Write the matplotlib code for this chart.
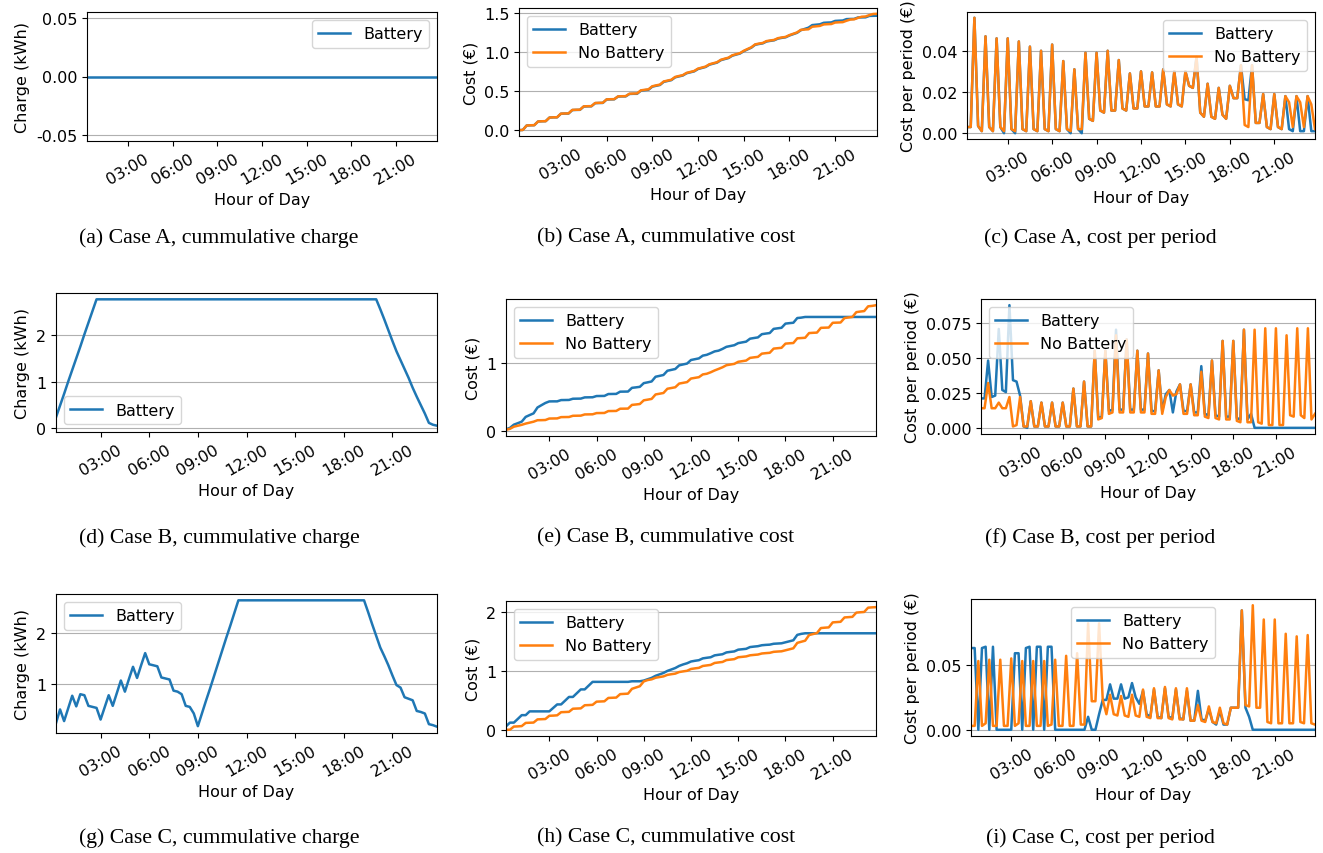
import numpy as np
import pandas as pd
import matplotlib
matplotlib.use("Agg")
import matplotlib.pyplot as plt
import matplotlib.dates as mdates

# 15 minute periods from 00:15 to 23:45
times = pd.date_range("2021-01-01 00:15", "2021-01-01 23:45", freq="15min")

# ---- Case A: no battery capacity ----
charge_a = [0.0] * 95

cost_a_nobat = [0.003, 0.003,
                0.056, 0.0035, 0.001,
                0.047, 0.003, 0.001,
                0.046, 0.003, 0.001,
                0.046, 0.002, 0.001,
                0.0445, 0.002, 0.001,
                0.042, 0.002, 0.001,
                0.040, 0.002, 0.001,
                0.043, 0.002, 0.001,
                0.035, 0.002, 0.001,
                0.031, 0.002, 0.002,
                0.039, 0.007, 0.006,
                0.039, 0.011, 0.010,
                0.040, 0.011, 0.011,
                0.0355, 0.012, 0.011,
                0.029, 0.012, 0.012,
                0.030, 0.013, 0.013,
                0.0295, 0.013, 0.013,
                0.031, 0.014, 0.013,
                0.030, 0.014, 0.013,
                0.030, 0.023, 0.022,
                0.037, 0.010, 0.008,
                0.024, 0.008, 0.007,
                0.022, 0.009, 0.007,
                0.023, 0.017, 0.017,
                0.033, 0.004, 0.003,
                0.033, 0.005, 0.005,
                0.019, 0.003, 0.002,
                0.019, 0.003, 0.002,
                0.018, 0.015, 0.003,
                0.018, 0.015, 0.003,
                0.018, 0.014, 0.002]

cost_a_bat = [0.003, 0.003,
              0.056, 0.0035, 0.001,
              0.047, 0.003, 0.001,
              0.046, 0.003, 0.0,
              0.046, 0.002, 0.0,
              0.0445, 0.002, 0.001,
              0.042, 0.002, 0.001,
              0.040, 0.002, 0.001,
              0.043, 0.002, 0.001,
              0.035, 0.002, 0.0,
              0.031, 0.002, 0.0,
              0.039, 0.007, 0.006,
              0.039, 0.011, 0.010,
              0.040, 0.011, 0.011,
              0.0355, 0.012, 0.011,
              0.029, 0.012, 0.012,
              0.030, 0.013, 0.013,
              0.0295, 0.013, 0.013,
              0.031, 0.014, 0.013,
              0.030, 0.014, 0.013,
              0.030, 0.023, 0.022,
              0.037, 0.010, 0.008,
              0.024, 0.008, 0.007,
              0.022, 0.009, 0.007,
              0.023, 0.017, 0.017,
              0.033, 0.0165, 0.016,
              0.033, 0.005, 0.005,
              0.019, 0.003, 0.002,
              0.019, 0.003, 0.002,
              0.018, 0.002, 0.001,
              0.018, 0.001, 0.001,
              0.018, 0.001, 0.001]

# ---- Case B ----
charge_b = ([0.24, 0.49, 0.74, 1.00, 1.25, 1.50, 1.75, 2.01, 2.26, 2.51, 2.76]
            + [2.76] * 69
            + [2.55, 2.33, 2.10, 1.87, 1.65, 1.46, 1.27, 1.08, 0.87, 0.68,
               0.50, 0.32, 0.12, 0.08, 0.06])

cost_b_nobat = [0.014, 0.014,
                0.032, 0.014, 0.014,
                0.018, 0.014, 0.014,
                0.022, 0.001, 0.002,
                0.022, 0.001, 0.001,
                0.019, 0.001, 0.001,
                0.018, 0.001, 0.001,
                0.018, 0.001, 0.001,
                0.018, 0.001, 0.001,
                0.028, 0.001, 0.001,
                0.033, 0.001, 0.001,
                0.055, 0.006, 0.007,
                0.055, 0.010, 0.011,
                0.066, 0.011, 0.011,
                0.063, 0.011, 0.011,
                0.055, 0.011, 0.011,
                0.053, 0.010, 0.010,
                0.041, 0.010, 0.022,
                0.027, 0.023, 0.024,
                0.031, 0.010, 0.010,
                0.031, 0.009, 0.009,
                0.040, 0.008, 0.007,
                0.048, 0.007, 0.006,
                0.062, 0.006, 0.006,
                0.062, 0.005, 0.004,
                0.070, 0.004, 0.004,
                0.070, 0.004, 0.003,
                0.071, 0.002, 0.002,
                0.071, 0.002, 0.002,
                0.066, 0.009, 0.008,
                0.071, 0.009, 0.007,
                0.071, 0.006, 0.010]

cost_b_bat = [0.021, 0.021,
              0.048, 0.022, 0.023,
              0.0705, 0.027, 0.0255,
              0.0875, 0.034, 0.033,
              0.023, 0.001, 0.0,
              0.019, 0.001, 0.001,
              0.018, 0.001, 0.001,
              0.018, 0.001, 0.001,
              0.018, 0.001, 0.001,
              0.028, 0.001, 0.001,
              0.033, 0.001, 0.001,
              0.055, 0.007, 0.008,
              0.055, 0.012, 0.013,
              0.070, 0.013, 0.013,
              0.063, 0.013, 0.013,
              0.055, 0.013, 0.013,
              0.053, 0.012, 0.012,
              0.041, 0.012, 0.024,
              0.027, 0.011, 0.026,
              0.031, 0.012, 0.012,
              0.031, 0.011, 0.011,
              0.044, 0.010, 0.009,
              0.048, 0.009, 0.008,
              0.062, 0.008, 0.008,
              0.062, 0.007, 0.006,
              0.070, 0.006, 0.010,
              0.0, 0.0, 0.0,
              0.0, 0.0, 0.0,
              0.0, 0.0, 0.0,
              0.0, 0.0, 0.0,
              0.0, 0.0, 0.0,
              0.0, 0.0, 0.0]

# ---- Case C ----
charge_c = ([0.23, 0.50,
             0.27, 0.52, 0.77,
             0.56, 0.80, 0.78,
             0.57, 0.55, 0.53,
             0.30, 0.54, 0.78,
             0.57, 0.82, 1.07,
             0.85, 1.10, 1.34,
             1.12, 1.37, 1.61,
             1.39, 1.37, 1.35,
             1.13, 1.11, 1.09,
             0.87, 0.85, 0.80,
             0.57, 0.55, 0.42,
             0.17, 0.42, 0.67,
             0.91, 1.16, 1.41,
             1.66, 1.91, 2.15,
             2.40]
            + [2.65] * 32
            + [2.42, 2.18, 1.95, 1.72, 1.55, 1.37, 1.17, 0.98, 0.93,
               0.74, 0.71, 0.68, 0.47, 0.45, 0.42, 0.21, 0.19, 0.16])

cost_c_nobat = [0.003, 0.003,
                0.053, 0.003, 0.005,
                0.054, 0.003, 0.003,
                0.054, 0.003, 0.003,
                0.055, 0.003, 0.005,
                0.053, 0.003, 0.003,
                0.053, 0.003, 0.003,
                0.053, 0.003, 0.004,
                0.054, 0.003, 0.003,
                0.057, 0.003, 0.003,
                0.059, 0.004, 0.004,
                0.082, 0.022, 0.022,
                0.082, 0.023, 0.012,
                0.027, 0.012, 0.011,
                0.026, 0.011, 0.010,
                0.027, 0.011, 0.010,
                0.031, 0.010, 0.009,
                0.032, 0.009, 0.009,
                0.033, 0.009, 0.008,
                0.032, 0.008, 0.008,
                0.032, 0.007, 0.007,
                0.019, 0.007, 0.006,
                0.018, 0.006, 0.005,
                0.017, 0.005, 0.004,
                0.017, 0.017, 0.017,
                0.092, 0.019, 0.018,
                0.096, 0.017, 0.017,
                0.085, 0.006, 0.005,
                0.085, 0.005, 0.005,
                0.074, 0.005, 0.005,
                0.072, 0.006, 0.005,
                0.073, 0.005, 0.004]

cost_c_bat = [0.063, 0.063,
              0.0, 0.063, 0.064,
              0.0, 0.064, 0.0,
              0.0, 0.0, 0.0,
              0.0, 0.059, 0.059,
              0.0, 0.063, 0.064,
              0.0, 0.064, 0.064,
              0.0, 0.064, 0.064,
              0.0, 0.0, 0.0,
              0.0, 0.0, 0.0,
              0.0, 0.0, 0.0,
              0.010, 0.0, 0.0,
              0.012, 0.023, 0.023,
              0.035, 0.024, 0.024,
              0.035, 0.024, 0.025,
              0.036, 0.025, 0.020,
              0.030, 0.012, 0.010,
              0.031, 0.010, 0.009,
              0.032, 0.010, 0.009,
              0.031, 0.009, 0.008,
              0.030, 0.007, 0.007,
              0.030, 0.008, 0.007,
              0.016, 0.006, 0.004,
              0.015, 0.004, 0.004,
              0.017, 0.017, 0.017,
              0.092, 0.017, 0.010,
              0.0, 0.0, 0.0,
              0.0, 0.0, 0.0,
              0.0, 0.0, 0.0,
              0.0, 0.0, 0.0,
              0.0, 0.0, 0.0,
              0.0, 0.0, 0.0]

captions = [["(a) Case A, cummulative charge", "(b) Case A, cummulative cost", "(c) Case A, cost per period"],
            ["(d) Case B, cummulative charge", "(e) Case B, cummulative cost", "(f) Case B, cost per period"],
            ["(g) Case C, cummulative charge", "(h) Case C, cummulative cost", "(i) Case C, cost per period"]]

plt.rcParams["font.size"] = 11.5
plt.rcParams["axes.unicode_minus"] = False
plt.rcParams["lines.linewidth"] = 1.8

W, H = 1323, 854
fig = plt.figure(figsize=(W / 100, H / 100), dpi=100)

# pixel boxes (left, top, right, bottom) of each axes
boxes = [[(87, 13, 437, 142), (519, 9, 877, 137), (967, 13, 1315, 140)],
         [(56, 294, 437, 433), (506, 300, 876, 437), (981, 300, 1315, 435)],
         [(56, 595, 437, 734), (506, 602, 876, 737), (971, 600, 1315, 737)]]
cap_y = [238, 538, 838]
cap_x = [219, 666, 1100]


def make_ax(r, c):
    l, t, rr, b = boxes[r][c]
    ax = fig.add_axes([l / W, 1 - b / H, (rr - l) / W, (b - t) / H])
    return ax


def finish(ax):
    ax.grid(axis="y")
    ax.set_xlim(times[0], times[-1])
    ax.xaxis.set_major_locator(mdates.HourLocator(byhour=range(3, 24, 3)))
    ax.xaxis.set_major_formatter(mdates.DateFormatter("%H:%M"))
    plt.setp(ax.get_xticklabels(), rotation=30)
    ax.set_xlabel("Hour of Day")


cases = [(charge_a, cost_a_bat, cost_a_nobat),
         (charge_b, cost_b_bat, cost_b_nobat),
         (charge_c, cost_c_bat, cost_c_nobat)]

charge_ticks = [None, [0, 1, 2], [1, 2]]
cum_ticks = [[0, 0.5, 1.0, 1.5], [0, 1], [0, 1, 2]]
per_ticks = [[0, 0.02, 0.04], [0, 0.025, 0.05, 0.075], [0, 0.05]]
charge_loc = ["upper right", "lower left", "upper left"]
cum_loc = ["upper left", "upper left", "upper left"]
per_loc = ["upper right", "upper left", "upper center"]

for r, (charge, bat, nobat) in enumerate(cases):
    # cumulative charge
    ax = make_ax(r, 0)
    ax.plot(times, charge, label="Battery")
    if charge_ticks[r] is None:
        ax.set_ylim(-0.055, 0.055)
    else:
        ax.set_yticks(charge_ticks[r])
    ax.set_ylabel("Charge (kWh)")
    ax.legend(loc=charge_loc[r])
    finish(ax)

    # cumulative cost
    ax = make_ax(r, 1)
    ax.plot(times, np.cumsum(bat), label="Battery")
    ax.plot(times, np.cumsum(nobat), label="No Battery")
    ax.set_yticks(cum_ticks[r])
    ax.set_ylabel("Cost (€)")
    ax.legend(loc=cum_loc[r])
    finish(ax)

    # cost per period
    ax = make_ax(r, 2)
    ax.plot(times, bat, label="Battery")
    ax.plot(times, nobat, label="No Battery")
    ax.set_yticks(per_ticks[r])
    ax.set_ylabel("Cost per period (€)")
    ax.legend(loc=per_loc[r])
    finish(ax)

    for c in range(3):
        fig.text(cap_x[c] / W, 1 - cap_y[r] / H, captions[r][c], ha="center", va="center",
                 family="Liberation Serif", size=15.7)

fig.savefig("out.png", dpi=100)
